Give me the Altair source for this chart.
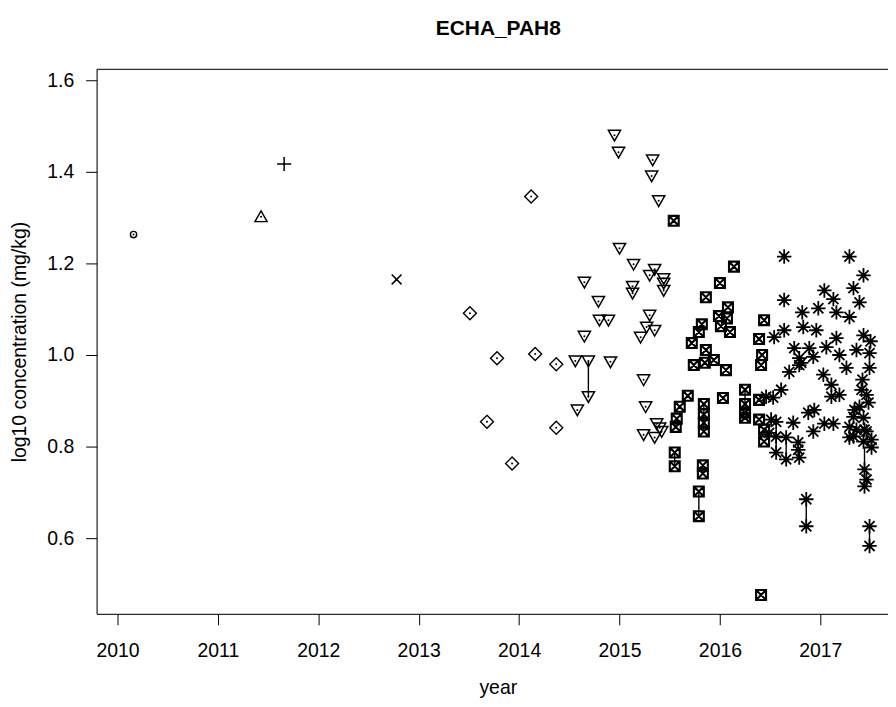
import altair as alt
import pandas as pd

# ---- data (year, log10 concentration) ----
title_text = ["ECHA_PAH8"]

circle_year = [2010.16]
circle_val = [1.263]

tri_year = [2011.43]
tri_val = [1.302]

plus_year = [2011.66]
plus_val = [1.417]

x_year = [2012.78]
x_val = [1.165]

diamond_year = [2013.51, 2014.12, 2013.78, 2014.16, 2013.68, 2014.37, 2014.37, 2013.93]
diamond_val = [1.091, 1.346, 0.993, 1.002, 0.854, 0.980, 0.841, 0.763]

tdown_year = [2014.95, 2014.99, 2015.00, 2015.14, 2014.65, 2015.13, 2015.13, 2014.79,
              2014.80, 2014.89, 2014.65, 2014.56, 2014.69, 2014.91, 2014.69, 2014.58,
              2015.33, 2015.32, 2015.39, 2015.35, 2015.30, 2015.44, 2015.44, 2015.44,
              2015.30, 2015.27, 2015.35, 2015.21, 2015.24, 2015.26, 2015.37, 2015.40,
              2015.42, 2015.24, 2015.35]
tdown_val = [1.480, 1.443, 1.233, 1.198, 1.159, 1.150, 1.135, 1.117,
             1.076, 1.076, 1.041, 0.987, 0.987, 0.985, 0.909, 0.880,
             1.426, 1.391, 1.337, 1.187, 1.174, 1.167, 1.157, 1.141,
             1.087, 1.061, 1.054, 1.039, 0.946, 0.887, 0.850, 0.841,
             0.833, 0.826, 0.820]

sq_year = [2015.54, 2016.14, 2016.00, 2015.86, 2016.08, 2015.99, 2016.07, 2015.82,
           2016.01, 2015.79, 2016.10, 2015.72, 2015.86, 2015.94, 2015.85, 2015.74,
           2016.06, 2016.44, 2016.39, 2016.42, 2016.41, 2015.68, 2015.60, 2015.57,
           2015.56, 2015.84, 2015.84, 2015.84, 2015.84, 2016.03, 2016.25, 2016.25,
           2016.25, 2016.25, 2016.39, 2016.39, 2016.44, 2016.44, 2015.55, 2015.55,
           2015.83, 2015.83, 2015.79, 2015.79, 2016.41]
sq_val = [1.293, 1.193, 1.157, 1.126, 1.104, 1.085, 1.080, 1.067,
          1.063, 1.050, 1.050, 1.026, 1.011, 0.989, 0.983, 0.978,
          0.967, 1.076, 1.035, 1.000, 0.978, 0.911, 0.887, 0.861,
          0.843, 0.893, 0.870, 0.852, 0.833, 0.906, 0.924, 0.893,
          0.874, 0.863, 0.902, 0.859, 0.837, 0.811, 0.787, 0.757,
          0.759, 0.741, 0.702, 0.648, 0.476]

ast_year = [2016.64, 2017.29, 2017.43, 2016.64, 2017.04, 2017.33, 2017.13, 2017.39,
            2016.98, 2016.82, 2017.16, 2017.29, 2016.83, 2016.96, 2016.64, 2016.54,
            2017.16, 2017.43, 2017.50, 2016.74, 2016.89, 2017.06, 2017.36, 2017.49,
            2017.19, 2016.79, 2016.93, 2016.79, 2017.26, 2017.49, 2016.69, 2017.03,
            2017.11, 2017.11, 2017.19, 2017.42, 2017.41, 2017.46, 2017.39, 2017.48,
            2016.61, 2016.53, 2016.88, 2016.94, 2016.73, 2016.56, 2017.04, 2017.13,
            2016.93, 2016.49, 2016.66, 2016.78, 2016.56, 2016.78, 2016.79, 2016.66,
            2016.56, 2017.29, 2017.29, 2017.33, 2017.43, 2017.44, 2017.43, 2017.51,
            2017.51, 2017.34, 2017.46, 2017.44, 2017.46, 2017.44, 2016.86, 2016.86,
            2017.49, 2017.49, 2016.46, 2016.51, 2017.36, 2017.33, 2016.81]
ast_val = [1.215, 1.215, 1.174, 1.120, 1.141, 1.146, 1.122, 1.115,
           1.102, 1.093, 1.093, 1.083, 1.061, 1.054, 1.054, 1.039,
           1.037, 1.043, 1.030, 1.015, 1.015, 1.017, 1.011, 1.004,
           1.000, 0.993, 0.996, 0.978, 0.972, 0.972, 0.963, 0.957,
           0.935, 0.909, 0.913, 0.946, 0.924, 0.913, 0.887, 0.896,
           0.924, 0.907, 0.874, 0.880, 0.852, 0.854, 0.850, 0.850,
           0.833, 0.830, 0.820, 0.809, 0.822, 0.793, 0.776, 0.772,
           0.787, 0.820, 0.843, 0.865, 0.863, 0.837, 0.811, 0.815,
           0.798, 0.880, 0.833, 0.750, 0.728, 0.713, 0.685, 0.626,
           0.626, 0.583, 0.909, 0.859, 0.837, 0.822, 0.983]

# vertical connectors between paired measurements
seg_year = [2014.69, 2015.84, 2016.25, 2015.55, 2015.79, 2015.83, 2016.86, 2017.49, 2017.44, 2016.56, 2016.66]
seg_lo = [0.909, 0.833, 0.863, 0.757, 0.648, 0.741, 0.626, 0.583, 0.713, 0.787, 0.772]
seg_hi = [0.987, 0.893, 0.924, 0.787, 0.702, 0.759, 0.685, 0.626, 0.798, 0.822, 0.820]

x_ticks = [2010, 2011, 2012, 2013, 2014, 2015, 2016, 2017]
y_ticks = [0.6, 0.8, 1.0, 1.2, 1.4, 1.6]

# ---- styling ----
W, H = 795, 547
FONT = "Liberation Sans"
FS = 19.5
x_dom = [2009.792, 2017.674]
y_dom = [0.4348, 1.6239]

groups = [
    (circle_year, circle_val, "circle", 40, 1.4),
    (tri_year, tri_val, "M0,-0.95L1,0.8L-1,0.8Z", 150, 1.4),
    (plus_year, plus_val, "M-1,0L1,0M0,-1L0,1", 200, 1.5),
    (x_year, x_val, "M-0.7,-0.7L0.7,0.7M-0.7,0.7L0.7,-0.7", 200, 1.5),
    (diamond_year, diamond_val, "M0,-1L1,0L0,1L-1,0Z", 170, 1.4),
    (tdown_year, tdown_val, "M-1,-0.8L1,-0.8L0,0.95Z", 150, 1.5),
    (sq_year, sq_val, "M-1,-1L1,-1L1,1L-1,1ZM-1,-1L1,1M-1,1L1,-1", 100, 2.1),
    (ast_year, ast_val, "M-1,0L1,0M0,-1L0,1M-0.7,-0.7L0.7,0.7M-0.7,0.7L0.7,-0.7", 210, 1.8),
]

x_enc = alt.X(
    "year:Q",
    scale=alt.Scale(domain=x_dom, nice=False, zero=False),
    axis=alt.Axis(values=x_ticks, format="d", title="year",
                  grid=False, domain=True, domainColor="black", domainWidth=1,
                  tickColor="black", tickSize=11, tickWidth=1, labelPadding=17,
                  labelFont=FONT, labelFontSize=FS, labelColor="black",
                  labelFlush=False, labelOverlap=False,
                  titleFont=FONT, titleFontSize=FS, titleFontWeight="normal",
                  titleColor="black", titleX=403, titleY=80.5,
                  titleBaseline="alphabetic"),
)
y_enc = alt.Y(
    "val:Q",
    scale=alt.Scale(domain=y_dom, nice=False, zero=False),
    axis=alt.Axis(values=y_ticks, format=".1f",
                  title="log10 concentration (mg/kg)",
                  grid=False, domain=True, domainColor="black", domainWidth=1,
                  tickColor="black", tickSize=11, tickWidth=1, labelPadding=12,
                  labelFont=FONT, labelFontSize=FS, labelColor="black",
                  labelFlush=False, labelOverlap=False,
                  titleFont=FONT, titleFontSize=FS, titleFontWeight="normal",
                  titleColor="black", titleX=-77, titleY=H / 2, titleAngle=270,
                  titleAlign="center", titleBaseline="middle"),
)

layers = []

seg_df = pd.DataFrame({"year": seg_year, "val": seg_lo, "val2": seg_hi})
layers.append(
    alt.Chart(seg_df).mark_rule(color="black", strokeWidth=1.4).encode(
        x=x_enc, y=y_enc, y2="val2:Q")
)

all_year, all_val = [], []
for yrs, vals, shape, size, sw in groups:
    df = pd.DataFrame({"year": yrs, "val": vals})
    all_year += yrs
    all_val += vals
    layers.append(
        alt.Chart(df).mark_point(shape=shape, size=size, filled=False, color="black",
                                 strokeWidth=sw, opacity=1).encode(x=x_enc, y=y_enc)
    )

dots = pd.DataFrame({"year": all_year, "val": all_val})
layers.append(
    alt.Chart(dots).mark_circle(size=4, color="black", opacity=1).encode(x=x_enc, y=y_enc)
)

# top frame line
layers.append(
    alt.Chart(pd.DataFrame({"a": [0]})).mark_rule(color="black", strokeWidth=1).encode(
        x=alt.value(0), x2=alt.value(W), y=alt.value(0))
)

# main title
layers.append(
    alt.Chart(pd.DataFrame({"t": title_text})).mark_text(
        font=FONT, fontSize=21, fontWeight="bold", color="black",
        align="center", baseline="alphabetic").encode(
        text="t:N", x=alt.value(W / 2 + 6), y=alt.value(-34))
)

chart = alt.layer(*layers).properties(
    width=W, height=H,
    autosize=alt.AutoSizeParams(type="none"),
    padding={"left": 89, "top": 60, "right": 0, "bottom": 84},
).configure_view(stroke=None).configure(background="white")

chart.save("out.html", embed_options={"renderer": "svg", "actions": False})
